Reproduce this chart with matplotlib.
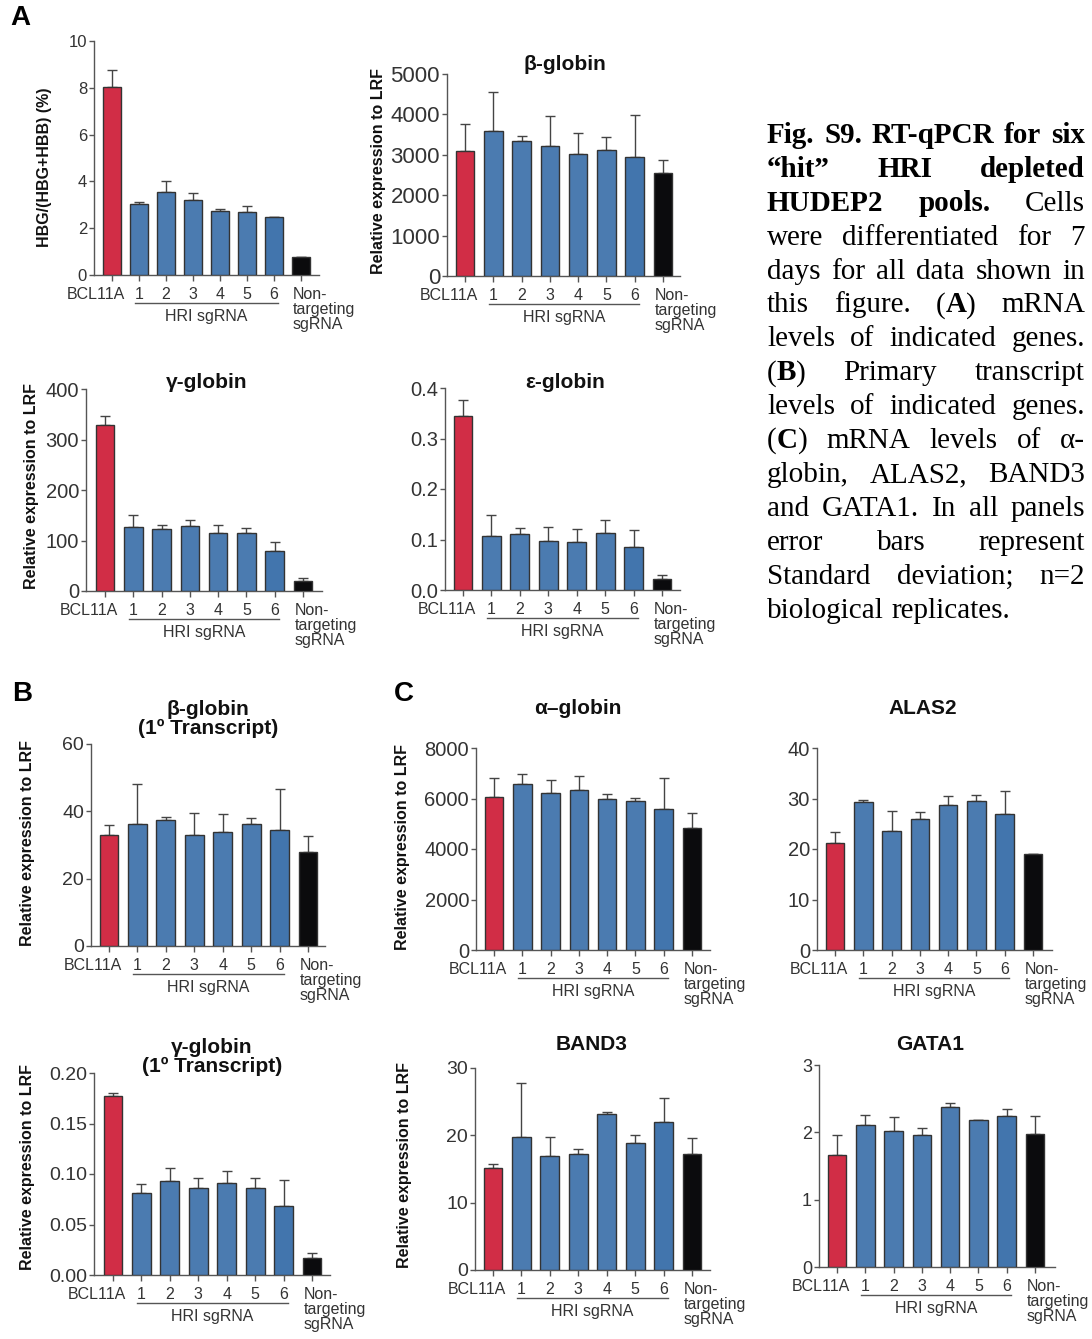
import matplotlib
matplotlib.use("Agg")
import matplotlib.pyplot as plt
import numpy as np

plt.rcParams['font.family'] = ['Liberation Sans', 'DejaVu Sans']

# ---------------- data ----------------
categories = ['BCL11A', '1', '2', '3', '4', '5', '6', 'Non-\ntargeting\nsgRNA']
group_label = 'HRI sgRNA'

hbg_pct_mean = [8.05, 3.04, 3.55, 3.19, 2.74, 2.70, 2.47, 0.77]
hbg_pct_sd = [0.69, 0.09, 0.46, 0.31, 0.07, 0.25, 0.01, 0.02]

beta_mean = [3100, 3600, 3340, 3210, 3010, 3120, 2950, 2540]
beta_sd = [650, 960, 130, 760, 530, 320, 1030, 340]

gamma_mean = [328, 126, 122, 128, 114, 114, 79, 20.5]
gamma_sd = [18, 25, 8, 13, 16, 10, 17.5, 5.3]

eps_mean = [0.345, 0.106, 0.111, 0.097, 0.096, 0.113, 0.085, 0.0225]
eps_sd = [0.031, 0.042, 0.012, 0.028, 0.024, 0.025, 0.034, 0.0065]

beta1_mean = [32.9, 36.3, 37.5, 33.1, 34.0, 36.2, 34.4, 27.9]
beta1_sd = [3.0, 11.8, 0.8, 6.4, 5.1, 1.9, 12.1, 4.8]

gamma1_mean = [0.1775, 0.0815, 0.0934, 0.0861, 0.0907, 0.0861, 0.0682, 0.0166]
gamma1_sd = [0.0025, 0.0082, 0.0126, 0.0096, 0.0123, 0.0096, 0.0255, 0.0053]

alpha_mean = [6050, 6570, 6205, 6325, 5995, 5900, 5585, 4835]
alpha_sd = [765, 410, 540, 555, 195, 105, 1240, 595]

alas2_mean = [21.1, 29.3, 23.5, 26.0, 28.7, 29.5, 27.0, 19.0]
alas2_sd = [2.3, 0.4, 4.0, 1.3, 1.8, 1.2, 4.5, 0.1]

band3_mean = [15.1, 19.75, 17.0, 17.3, 23.2, 18.8, 22.0, 17.3]
band3_sd = [0.7, 7.95, 2.75, 0.7, 0.2, 1.25, 3.5, 2.25]

gata1_mean = [1.66, 2.11, 2.02, 1.96, 2.38, 2.18, 2.25, 1.97]
gata1_sd = [0.30, 0.15, 0.21, 0.10, 0.06, 0.01, 0.10, 0.27]

ticks_hbg = [0, 2, 4, 6, 8, 10]
ticks_beta = [0, 1000, 2000, 3000, 4000, 5000]
ticks_gamma = [0, 100, 200, 300, 400]
ticks_eps = [0.0, 0.1, 0.2, 0.3, 0.4]
ticks_beta1 = [0, 20, 40, 60]
ticks_gamma1 = [0.00, 0.05, 0.10, 0.15, 0.20]
ticks_alpha = [0, 2000, 4000, 6000, 8000]
ticks_alas2 = [0, 10, 20, 30, 40]
ticks_band3 = [0, 10, 20, 30]
ticks_gata1 = [0, 1, 2, 3]

# ---------------- style ----------------
W, H = 1092, 1339
RED = '#D12D46'
BLUE = '#4B7BB0'
BLUE6 = '#4275AD'
BLACK = '#0B0B0D'
bar_colors = [RED] + [BLUE] * 5 + [BLUE6] + [BLACK]
AX_COL = '#555555'
TXT_COL = '#333333'

fig = plt.figure(figsize=(W / 100, H / 100), dpi=100)
fig.patch.set_facecolor('white')


def fx(x):
    return x / W


def fy(y):
    return 1 - y / H


# layout: (yaxis_x, right_x, top_y, zero_y, first_bar_x, last_bar_x) in pixels
panels = [
    dict(m=hbg_pct_mean, s=hbg_pct_sd, t=ticks_hbg, fmt='{:g}', fs=12,
         geo=(94, 319, 41, 275, 112, 301)),
    dict(m=beta_mean, s=beta_sd, t=ticks_beta, fmt='{:g}', fs=16,
         geo=(447, 680, 74, 276, 465, 663)),
    dict(m=gamma_mean, s=gamma_sd, t=ticks_gamma, fmt='{:g}', fs=14.5,
         geo=(86, 322, 389, 591, 105, 303)),
    dict(m=eps_mean, s=eps_sd, t=ticks_eps, fmt='{:.1f}', fs=14.5,
         geo=(445, 680, 388, 590, 463, 662)),
    dict(m=beta1_mean, s=beta1_sd, t=ticks_beta1, fmt='{:g}', fs=14,
         geo=(91, 325, 744, 946, 109, 308)),
    dict(m=gamma1_mean, s=gamma1_sd, t=ticks_gamma1, fmt='{:.2f}', fs=14,
         geo=(94, 330, 1073, 1275, 113, 312)),
    dict(m=alpha_mean, s=alpha_sd, t=ticks_alpha, fmt='{:g}', fs=14.5,
         geo=(476, 710, 748, 950, 494, 692)),
    dict(m=alas2_mean, s=alas2_sd, t=ticks_alas2, fmt='{:g}', fs=14.5,
         geo=(817, 1052, 748, 950, 835, 1033)),
    dict(m=band3_mean, s=band3_sd, t=ticks_band3, fmt='{:g}', fs=14,
         geo=(475, 710, 1068, 1270, 493, 692)),
    dict(m=gata1_mean, s=gata1_sd, t=ticks_gata1, fmt='{:g}', fs=13,
         geo=(819, 1055, 1065, 1267, 837, 1035)),
]

XL_FS = 11.5
for p in panels:
    yx, rx, ty, zy, bx, nx = p['geo']
    sp = (nx - bx) / 7.0
    ax = fig.add_axes([fx(yx), fy(zy), fx(rx - yx), (zy - ty) / H])
    n = len(p['m'])
    x = np.arange(n)
    ax.bar(x, p['m'], width=0.66, color=bar_colors, edgecolor='#333333',
           linewidth=1.0, zorder=3)
    ax.errorbar(x, p['m'], yerr=[np.zeros(n), p['s']], fmt='none',
                ecolor='#444444', elinewidth=1.0, capsize=3.5, capthick=1.0,
                zorder=2)
    ax.set_xlim(-(bx - yx) / sp, 7 + (rx - nx) / sp)
    ax.set_ylim(p['t'][0], p['t'][-1])
    ax.set_yticks(p['t'])
    ax.set_yticklabels([p['fmt'].format(v) for v in p['t']])
    ax.set_xticks(x)
    ax.set_xticklabels([])
    for side in ['top', 'right']:
        ax.spines[side].set_visible(False)
    for side in ['left', 'bottom']:
        ax.spines[side].set_color(AX_COL)
        ax.spines[side].set_linewidth(1.0)
    ax.tick_params(axis='y', direction='out', length=3.5, width=1.0,
                   color=AX_COL, labelsize=p['fs'], labelcolor=TXT_COL, pad=1.5)
    ax.tick_params(axis='x', direction='out', length=4.5, width=1.0,
                   color=AX_COL)
    ax.set_facecolor('none')

    ah = zy - ty  # axes height in px
    trans = ax.get_xaxis_transform()
    # category labels
    row_off = -12 / ah
    ax.text(0 + 13 / sp, row_off, categories[0], transform=trans, ha='right',
            va='top', fontsize=XL_FS, color=TXT_COL)
    for i in range(1, 7):
        ax.text(i, row_off, categories[i], transform=trans, ha='center',
                va='top', fontsize=XL_FS, color=TXT_COL)
    ax.text(7 - 8 / sp, row_off, categories[7], transform=trans, ha='left',
            va='top', fontsize=XL_FS, color=TXT_COL, linespacing=1.0)
    ax.plot([0.85, 6.15], [-28 / ah, -28 / ah], transform=trans,
            color=AX_COL, lw=1.0, clip_on=False)
    ax.text(3.5, -34 / ah, group_label, transform=trans, ha='center',
            va='top', fontsize=XL_FS, color=TXT_COL)

# y labels
ylabels = [
    ('HBG/(HBG+HBB) (%)', 45, 167),
    ('Relative expression to LRF', 378, 171),
    ('Relative expression to LRF', 32, 486),
    ('Relative expression to LRF', 28, 843),
    ('Relative expression to LRF', 28, 1167),
    ('Relative expression to LRF', 403, 847),
    ('Relative expression to LRF', 405, 1165),
]
for txt, x0, y0 in ylabels:
    fig.text(fx(x0), fy(y0), txt, rotation=90, ha='center', va='center',
             fontsize=11.5, fontweight='bold', color='#111111')

# titles
titles = [
    ('β-globin', 565, 65),
    ('γ-globin', 207, 382),
    ('ε-globin', 565, 383),
    ('β-globin\n(1º Transcript)', 208, 719),
    ('γ-globin\n(1º Transcript)', 212, 1057),
    ('α–globin', 578, 709),
    ('ALAS2', 923, 709),
    ('BAND3', 592, 1045),
    ('GATA1', 930, 1045),
]
for txt, x0, y0 in titles:
    fig.text(fx(x0), fy(y0), txt, ha='center', va='center', fontsize=15,
             fontweight='bold', color='#111111', linespacing=0.95)

# panel letters
for txt, x0, y0 in [('A', 20, 18), ('B', 22, 694), ('C', 404, 694)]:
    fig.text(fx(x0), fy(y0), txt, ha='center', va='center', fontsize=20,
             fontweight='bold', color='#000000')

# ---------------- caption (justified) ----------------
B_, R_ = 'bold', 'normal'
caption_lines = [
    [[('Fig.', B_)], [('S9.', B_)], [('RT-qPCR', B_)], [('for', B_)], [('six', B_)]],
    [[('“hit”', B_)], [('HRI', B_)], [('depleted', B_)]],
    [[('HUDEP2', B_)], [('pools.', B_)], [('Cells', R_)]],
    [[(w, R_)] for w in 'were differentiated for 7'.split()],
    [[(w, R_)] for w in 'days for all data shown in'.split()],
    [[('this', R_)], [('figure.', R_)], [('(', R_), ('A', B_), (')', R_)], [('mRNA', R_)]],
    [[(w, R_)] for w in 'levels of indicated genes.'.split()],
    [[('(', R_), ('B', B_), (')', R_)], [('Primary', R_)], [('transcript', R_)]],
    [[(w, R_)] for w in 'levels of indicated genes.'.split()],
    [[('(', R_), ('C', B_), (')', R_)]] + [[(w, R_)] for w in 'mRNA levels of α-'.split()],
    [[(w, R_)] for w in 'globin, ALAS2, BAND3'.split()],
    [[(w, R_)] for w in 'and GATA1. In all panels'.split()],
    [[(w, R_)] for w in 'error bars represent'.split()],
    [[(w, R_)] for w in 'Standard deviation; n=2'.split()],
    [[(w, R_)] for w in 'biological replicates.'.split()],
]
CAP_FS = 21
CAP_FAM = ['Liberation Serif', 'DejaVu Serif']
x_left, x_right = 767, 1085
base0 = 143
line_h = 33.9
renderer = fig.canvas.get_renderer()


def run_width(s, wt):
    t = fig.text(0, 0, s, fontsize=CAP_FS, fontweight=wt, family=CAP_FAM)
    w = t.get_window_extent(renderer).width
    t.remove()
    return w


space_w = run_width('a b', R_) - run_width('ab', R_)
for li, words in enumerate(caption_lines):
    widths = []
    for word in words:
        widths.append([run_width(s, wt) for s, wt in word])
    total = sum(sum(w) for w in widths)
    last = li == len(caption_lines) - 1
    if len(words) > 1 and not last:
        gap = (x_right - x_left - total) / (len(words) - 1)
    else:
        gap = space_w
    cx = x_left
    yb = base0 + li * line_h
    for word, ws in zip(words, widths):
        for (s, wt), w in zip(word, ws):
            fig.text(fx(cx), fy(yb), s, fontsize=CAP_FS, fontweight=wt,
                     family=CAP_FAM, ha='left', va='baseline', color='#000000')
            cx += w
        cx += gap

fig.savefig('out.png', dpi=100, facecolor='white')
